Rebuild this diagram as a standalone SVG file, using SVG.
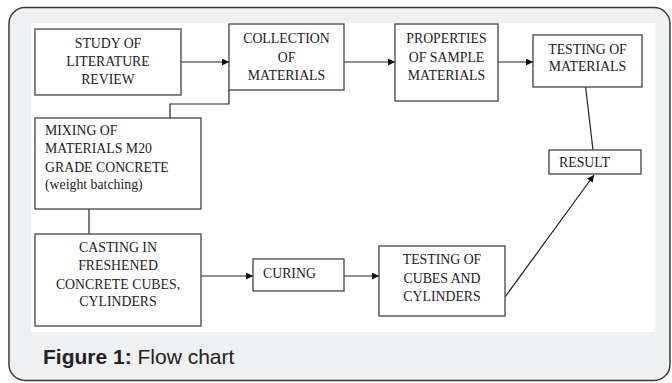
<svg xmlns="http://www.w3.org/2000/svg" width="672" height="383" viewBox="0 0 672 383">
<style>
.box{fill:#fff;stroke:#444;stroke-width:1.3}
.t{font-family:'Liberation Serif','DejaVu Serif',serif;font-size:13.8px;fill:#222}
.c{text-anchor:middle}
.ln{fill:none;stroke:#222;stroke-width:1.2}
.cap{font-family:'Liberation Sans',Arial,sans-serif;font-size:21px;fill:#222}
</style>
<defs>
<marker id="ah" viewBox="0 0 10 10" refX="10" refY="5" markerWidth="8" markerHeight="7" markerUnits="userSpaceOnUse" orient="auto">
<path d="M0,0 L10,5 L0,10 z" fill="#111"/>
</marker>
</defs>
<rect x="9" y="7.5" width="661" height="373" rx="16" fill="#eff0f2" stroke="#3a3a3a" stroke-width="1.5"/>
<rect x="31" y="23" width="624" height="309" fill="#fff"/>

<g id="connectors">
<line class="ln" x1="181" y1="62" x2="229" y2="62" marker-end="url(#ah)"/>
<polyline class="ln" points="170,118 170,104 229,104 229,90"/>
<line class="ln" x1="344" y1="62" x2="395" y2="62" marker-end="url(#ah)"/>
<line class="ln" x1="498" y1="62" x2="533" y2="62" marker-end="url(#ah)"/>
<line class="ln" x1="585" y1="82" x2="593" y2="150"/>
<line class="ln" x1="89" y1="209" x2="89" y2="234"/>
<line class="ln" x1="201" y1="276" x2="253" y2="276" marker-end="url(#ah)"/>
<line class="ln" x1="344" y1="276" x2="379" y2="276" marker-end="url(#ah)"/>
<line class="ln" x1="505" y1="297" x2="594" y2="175" marker-end="url(#ah)"/>
</g>

<g id="study">
<rect class="box" x="35" y="29" width="146" height="66"/>
<text class="t c" x="108" y="48">STUDY OF</text>
<text class="t c" x="108" y="66">LITERATURE</text>
<text class="t c" x="108" y="83.5">REVIEW</text>
</g>
<g id="collection">
<rect class="box" x="229" y="24" width="115" height="66"/>
<text class="t c" x="286.5" y="43">COLLECTION</text>
<text class="t c" x="286.5" y="61.5">OF</text>
<text class="t c" x="286.5" y="79.5">MATERIALS</text>
</g>
<g id="properties">
<rect class="box" x="395" y="24" width="103" height="77"/>
<text class="t c" x="446.5" y="43">PROPERTIES</text>
<text class="t c" x="446.5" y="61.5">OF SAMPLE</text>
<text class="t c" x="446.5" y="79.5">MATERIALS</text>
</g>
<g id="testing-materials">
<rect class="box" x="533" y="35" width="109" height="52"/>
<text class="t c" x="587.5" y="53.5">TESTING OF</text>
<text class="t c" x="587.5" y="71">MATERIALS</text>
</g>
<g id="result">
<rect class="box" x="549" y="150" width="92" height="24"/>
<text class="t" x="559" y="166.5">RESULT</text>
</g>
<g id="mixing">
<rect class="box" x="35" y="118" width="166" height="91"/>
<text class="t" x="45" y="135">MIXING OF</text>
<text class="t" x="45" y="153">MATERIALS M20</text>
<text class="t" x="45" y="171.5">GRADE CONCRETE</text>
<text class="t" x="45" y="189">(weight batching)</text>
</g>
<g id="casting">
<rect class="box" x="35" y="234" width="166" height="92"/>
<text class="t c" x="118" y="252">CASTING IN</text>
<text class="t c" x="118" y="270">FRESHENED</text>
<text class="t c" x="118" y="288.5">CONCRETE CUBES,</text>
<text class="t c" x="118" y="306">CYLINDERS</text>
</g>
<g id="curing">
<rect class="box" x="253" y="259" width="91" height="32"/>
<text class="t" x="263" y="277.5">CURING</text>
</g>
<g id="testing-cubes">
<rect class="box" x="379" y="246" width="126" height="70"/>
<text class="t c" x="442" y="264">TESTING OF</text>
<text class="t c" x="442" y="282.5">CUBES AND</text>
<text class="t c" x="442" y="300.5">CYLINDERS</text>
</g>
<text class="cap" x="43" y="364"><tspan font-weight="bold">Figure 1:</tspan> Flow chart</text>
</svg>
